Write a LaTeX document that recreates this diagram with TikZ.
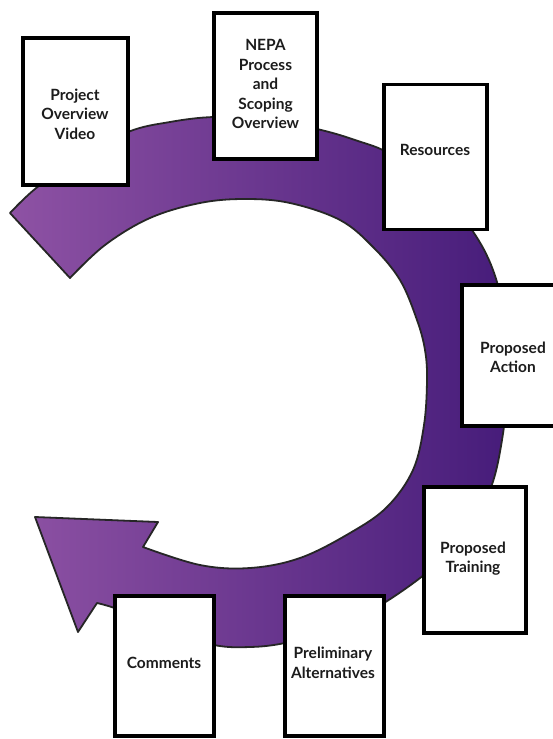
\documentclass[tikz,border=0pt]{standalone}
\usepackage{fontspec}
\setmainfont{Lato}
\definecolor{plight}{RGB}{142,82,164}
\definecolor{pmid}{RGB}{124,68,152}
\definecolor{pdark}{RGB}{70,28,122}
\definecolor{txtc}{RGB}{28,28,28}
\begin{document}
\begin{tikzpicture}[x=1pt,y=-1pt,
  band/.style={draw=black!85,line width=1.8pt,line join=round,
    left color=plight,middle color=pmid,right color=pdark},
  card/.style={draw=black,fill=white,line width=3.5pt,inner sep=0pt},
  lbl/.style={font=\fontsize{15.5}{19.5}\selectfont\bfseries,text=txtc,
    align=center,inner sep=0pt}]
\clip (0,0) rectangle (553,739);
\fill[white] (0,0) rectangle (553,739);
% circular arrow band
\shade[band] (10,213)
  -- plot[smooth,tension=0.6] coordinates {(10,213) (35,189) (75,160) (128,132)
     (170,122) (214,117) (265,119) (317,129) (355,140) (392,155) (440,192)
     (472,230) (493,270) (505,320) (508,380) (502,440) (490,490) (465,535)
     (430,570) (384,603) (335,630) (285,643) (250,647) (214,645) (165,630)
     (120,610) (97,603)}
  -- (78,632) -- (35,517) -- (158,522) -- (143,547)
  -- plot[smooth,tension=0.6] coordinates {(143,547) (200,565) (250,568)
     (300,558) (350,533) (387,507) (413,470) (424,425) (427,380) (425,350)
     (417,320) (400,280) (373,247) (340,220) (290,203) (245,199) (200,203)
     (150,218) (105,245) (70,278)}
  -- cycle;
% cards
\node[card,minimum width=105pt,minimum height=147pt] (c1) at (75.5,111.5) {};
\node[card,minimum width=103pt,minimum height=146pt] (c2) at (265.5,86) {};
\node[card,minimum width=103pt,minimum height=145pt] (c3) at (435.5,157) {};
\node[card,minimum width=103pt,minimum height=141pt] (c4) at (513.5,355.5) {};
\node[card,minimum width=102pt,minimum height=146pt] (c5) at (475,560) {};
\node[card,minimum width=99pt,minimum height=140pt] (c6) at (164.5,666) {};
\node[card,minimum width=99pt,minimum height=140pt] (c7) at (334.5,666) {};
% labels
\node[lbl] (t1) at (75,114) {Project\\Overview\\Video};
\node[lbl] (t2) at (265.5,84) {NEPA\\Process\\and\\Scoping\\Overview};
\node[lbl] (t3) at (435,150) {Resources};
\node[lbl] (t4) at (513,357.5) {Proposed\\Action};
\node[lbl] (t5) at (473,558.5) {Proposed\\Training};
\node[lbl] (t6) at (164,663) {Comments};
\node[lbl] (t7) at (333,663) {Preliminary\\Alternatives};
\end{tikzpicture}
\end{document}
